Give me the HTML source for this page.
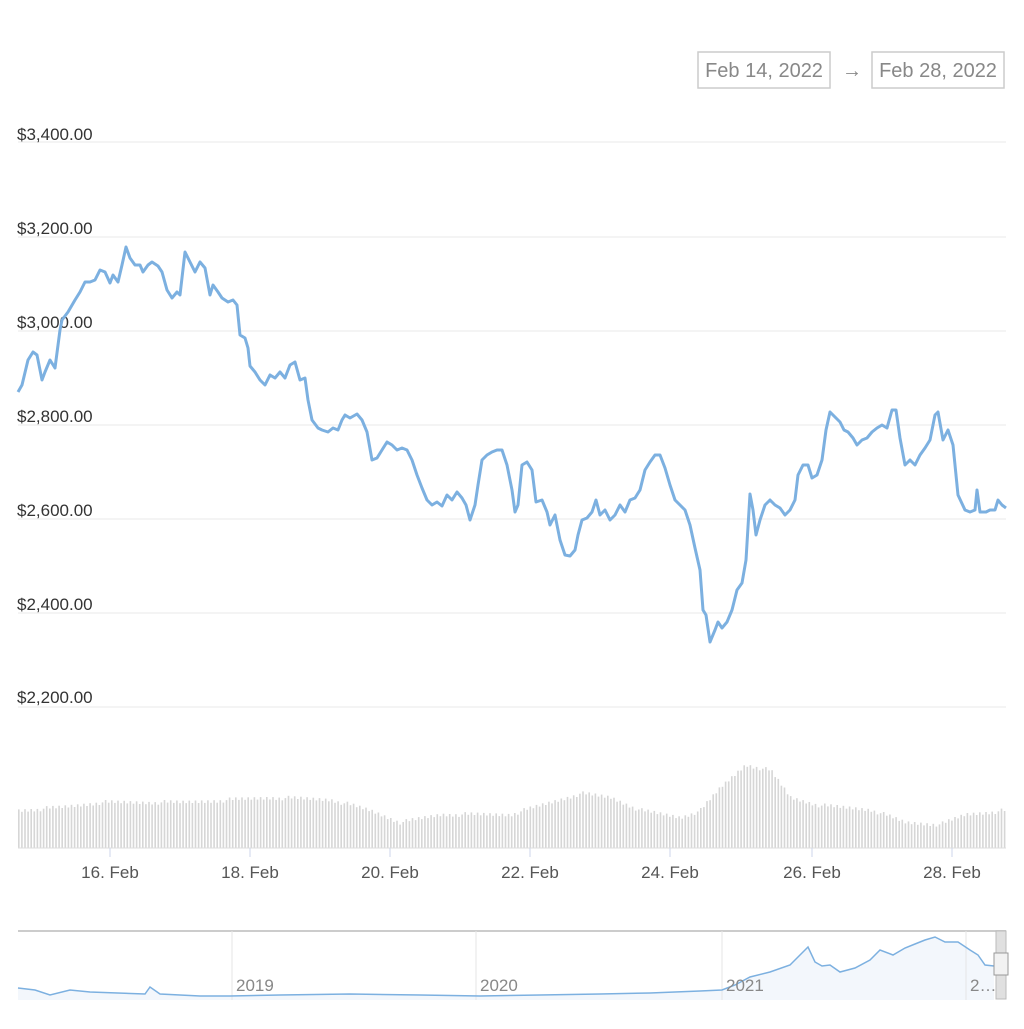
<!DOCTYPE html>
<html><head><meta charset="utf-8"><style>
body{margin:0;background:#fff;width:1024px;height:1024px;overflow:hidden;font-family:"Liberation Sans",sans-serif}
</style></head><body>
<svg id="s" width="1024" height="1024" xmlns="http://www.w3.org/2000/svg" font-family="Liberation Sans, sans-serif">
<rect x="698" y="52" width="132" height="36" fill="#fff" stroke="#ccc" stroke-width="1.5"/>
<text x="764" y="77" font-size="20" fill="#888" text-anchor="middle">Feb 14, 2022</text>
<text x="852" y="77" font-size="20" fill="#888" text-anchor="middle">→</text>
<rect x="872" y="52" width="132" height="36" fill="#fff" stroke="#ccc" stroke-width="1.5"/>
<text x="938" y="77" font-size="20" fill="#888" text-anchor="middle">Feb 28, 2022</text>
<g stroke="#f0f0f0" stroke-width="1.5">
<line x1="18" x2="1006" y1="142" y2="142"/><line x1="18" x2="1006" y1="237" y2="237"/><line x1="18" x2="1006" y1="331" y2="331"/><line x1="18" x2="1006" y1="425" y2="425"/><line x1="18" x2="1006" y1="519" y2="519"/><line x1="18" x2="1006" y1="613" y2="613"/><line x1="18" x2="1006" y1="707" y2="707"/>
</g>
<g font-size="17" fill="#333">
<text x="17" y="140">$3,400.00</text><text x="17" y="234">$3,200.00</text><text x="17" y="328">$3,000.00</text><text x="17" y="422">$2,800.00</text><text x="17" y="516">$2,600.00</text><text x="17" y="610">$2,400.00</text><text x="17" y="703">$2,200.00</text>
</g>
<g id="vol" fill="#d6d6d6"></g>
<line x1="18" x2="1006" y1="848" y2="848" stroke="#ddd"/>
<g stroke="#ccd6eb"><line x1="110" x2="110" y1="848" y2="857"/><line x1="250" x2="250" y1="848" y2="857"/><line x1="390" x2="390" y1="848" y2="857"/><line x1="530" x2="530" y1="848" y2="857"/><line x1="670" x2="670" y1="848" y2="857"/><line x1="812" x2="812" y1="848" y2="857"/><line x1="952" x2="952" y1="848" y2="857"/></g>
<g font-size="17" fill="#555" text-anchor="middle">
<text x="110" y="878">16. Feb</text><text x="250" y="878">18. Feb</text><text x="390" y="878">20. Feb</text><text x="530" y="878">22. Feb</text><text x="670" y="878">24. Feb</text><text x="812" y="878">26. Feb</text><text x="952" y="878">28. Feb</text>
</g>
<polyline id="price" fill="none" stroke="#7cb0e0" stroke-width="3" stroke-linejoin="round"/>
<line x1="18" x2="1006" y1="931" y2="931" stroke="#ccc" stroke-width="2"/>
<path id="navA" fill="#f3f7fc" stroke="none"/>
<g stroke="#e6e6e6"><line x1="232" x2="232" y1="931" y2="1000"/><line x1="476" x2="476" y1="931" y2="1000"/><line x1="722" x2="722" y1="931" y2="1000"/><line x1="966" x2="966" y1="931" y2="1000"/></g>
<polyline id="nav" fill="none" stroke="#7cb0e0" stroke-width="1.5"/>
<g font-size="17" fill="#888"><text x="236" y="991">2019</text><text x="480" y="991">2020</text><text x="726" y="991">2021</text><text x="970" y="991">2…</text></g>
<rect x="996" y="931" width="10" height="68" fill="#e0e0e0" stroke="#bbb"/>
<rect x="994" y="953" width="14" height="22" fill="#f2f2f2" stroke="#999"/>
</svg>
<script>
var p=[18,392,22,385,28,360,33,352,37,355,42,380,45,372,50,360,55,368,60,330,62,320,68,312,75,300,80,292,85,282,90,282,95,280,100,270,105,272,110,283,113,275,118,282,122,265,126,247,130,258,135,265,140,265,143,272,148,265,152,262,158,266,162,272,167,290,172,298,177,292,180,295,185,252,190,262,195,272,200,262,205,268,210,295,213,285,218,292,222,298,228,302,233,300,237,305,240,335,245,338,248,348,250,366,255,372,260,380,265,385,270,375,275,378,280,372,285,378,290,365,295,362,300,380,305,378,308,400,312,420,318,428,322,430,328,432,333,428,338,430,342,420,345,415,350,418,357,414,362,420,367,432,372,460,377,458,382,450,387,442,392,445,397,450,402,448,407,450,412,460,417,475,422,488,427,500,432,505,437,502,442,506,447,495,452,500,457,492,462,498,466,505,470,520,475,505,478,485,482,460,487,455,492,452,497,450,502,450,507,465,512,490,515,512,518,505,522,465,527,462,532,470,536,502,542,500,547,512,550,525,555,515,560,540,565,555,570,556,575,550,578,535,582,520,587,518,592,512,596,500,600,515,605,510,610,520,615,515,620,505,625,512,630,500,635,498,640,490,645,470,650,462,655,455,660,455,665,468,670,485,675,500,680,505,685,510,690,525,695,548,700,570,703,610,706,615,710,642,715,630,718,622,722,628,727,622,732,610,737,590,742,583,746,560,750,494,753,510,756,535,760,520,765,505,770,500,775,505,780,508,785,515,790,510,795,500,798,475,803,465,808,465,812,478,817,475,822,460,826,430,830,412,836,418,840,422,844,430,848,432,853,438,857,445,862,440,867,438,872,432,877,428,882,425,887,428,892,410,896,410,900,438,905,465,910,460,915,465,920,455,925,448,930,440,935,415,938,412,943,440,948,430,953,445,958,495,965,510,970,512,975,510,977,490,980,512,986,512,990,510,995,510,998,500,1002,505,1006,508];
document.getElementById('price').setAttribute('points',p.join(' '));
var vk=[[18,808],[60,805],[100,800],[180,800],[270,795],[330,797],[370,808],[400,820],[440,812],[510,812],[550,800],[580,791],[610,795],[640,808],[680,815],[700,808],[720,785],[745,762],[770,768],[790,795],[820,803],[870,807],[905,820],[940,822],[965,812],[1006,808]];
function vi(x){for(var i=1;i<vk.length;i++)if(x<=vk[i][0]){var a=vk[i-1],b=vk[i];return a[1]+(b[1]-a[1])*(x-a[0])/(b[0]-a[0]);}return 808;}
var h='';for(var x=18;x<1006;x+=3.1){var y=vi(x)+((x*7.3)%5);h+='<rect x="'+x.toFixed(1)+'" y="'+y.toFixed(1)+'" width="1.6" height="'+(848-y).toFixed(1)+'"/>';}
document.getElementById('vol').innerHTML=h;
var n=[18,988,35,990,50,995,70,990,90,992,145,994,150,987,160,994,200,996,230,996,280,995,350,994,420,995,480,996,540,995,600,994,650,993,700,991,722,990,735,985,750,977,770,972,790,965,800,955,808,947,815,962,822,966,830,965,840,972,855,968,870,960,880,950,893,955,905,948,915,944,925,940,935,937,945,942,958,942,970,950,978,955,985,965,994,966];
document.getElementById('nav').setAttribute('points',n.join(' '));
var d='M18 1000 L';for(var i=0;i<n.length;i+=2)d+=n[i]+' '+n[i+1]+' L';d+='994 1000 Z';
document.getElementById('navA').setAttribute('d',d);
</script>
</body></html>
